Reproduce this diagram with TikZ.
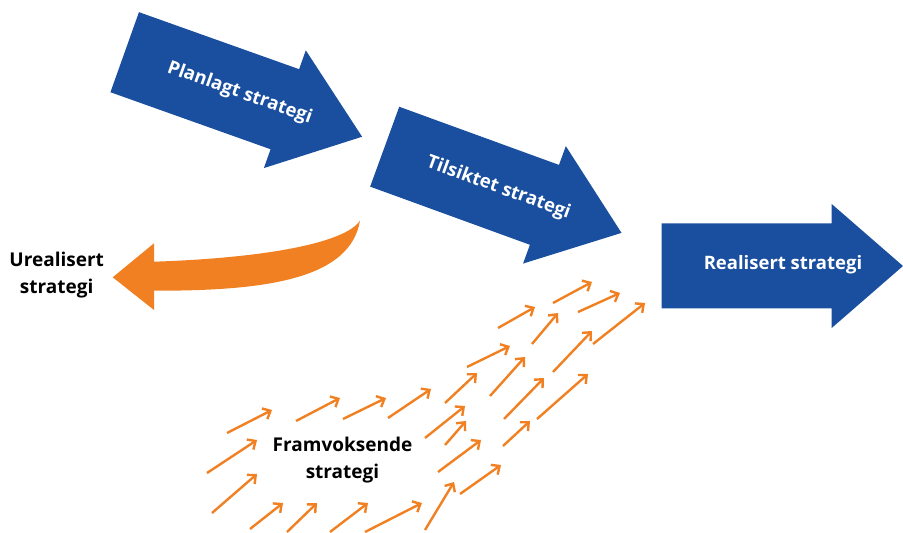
\documentclass[tikz,border=0pt]{standalone}
\usepackage{fontspec}
\setmainfont{Open Sans}
\usetikzlibrary{arrows.meta}
\definecolor{stratblue}{HTML}{1A4F9F}
\definecolor{stratorange}{HTML}{F08022}
\begin{document}
\begin{tikzpicture}[x=1pt,y=1pt,
  bluearrow/.style={fill=stratblue},
  bluelabel/.style={text=white,font=\bfseries\fontsize{18.5}{22}\selectfont},
  blacklabel/.style={text=black,align=center,font=\bfseries\fontsize{19}{26.5}\selectfont},
  sprout/.style={stratorange,line width=2.4pt,-{Straight Barb[length=6.5pt,width=12pt]}}]
  \useasboundingbox (0,0) rectangle (903,533);
  % planlagt strategi
  \begin{scope}[shift={(124.7,480.8)},rotate=-19.6]
    \fill[bluearrow] (0,42.5) -- (170,42.5) -- (170,62.5) -- (252,0) -- (170,-62.5) -- (170,-42.5) -- (0,-42.5) -- cycle;
    \node[bluelabel,rotate=-19.6] (plan) at (122,0) {Planlagt strategi};
  \end{scope}
  % tilsiktet strategi
  \begin{scope}[shift={(384.7,386.3)},rotate=-20]
    \fill[bluearrow] (0,42.5) -- (170,42.5) -- (170,62.5) -- (252,0) -- (170,-62.5) -- (170,-42.5) -- (0,-42.5) -- cycle;
    \node[bluelabel,rotate=-20] (tilsiktet) at (121,0) {Tilsiktet strategi};
  \end{scope}
  % realisert strategi
  \fill[bluearrow] (661.7,224.7) -- (831.7,224.7) -- (831.7,205) -- (903,267) -- (831.7,329) -- (831.7,309.7) -- (661.7,309.7) -- cycle;
  \node[bluelabel] (realisert) at (783,268) {Realisert strategi};
  % urealisert strategi
  \fill[stratorange] (154,271.3) .. controls (265,275) and (345,290) .. (360,312.3)
    .. controls (350,255) and (270,242) .. (154,242.3) -- (154,223) -- (112.7,255.7) -- (154,289.7) -- cycle;
  \node[blacklabel] (urealisert) at (56.7,258) {Urealisert\\strategi};
  % framvoksende strategi
  \node[blacklabel] (framvoksende) at (342.5,73) {Framvoksende\\strategi};
  \foreach \xa/\ya/\xb/\yb in {498/205/535/226, 553/230/592/251, 578/221/620/240, 593/189/645/230,
    532/189/558/220, 467/166/510/187, 553/161/592/202, 490/137/525/176, 445/130/477/160,
    388/115/431/144, 343/114/386/135, 296/112/340/135, 227/100/272/123, 425/95/465/127,
    445/88/466/112, 504/114/544/155, 537/114/588/159, 503/87/530/112, 438/61/481/93,
    207/60/257/93, 212/20/257/59, 460/39/501/68, 425/3/454/51, 250/4/283/30,
    287/1/317/30, 330/1/368/30, 365/1/422/30}
    {\draw[sprout] (\xa,\ya) -- (\xb,\yb);}
\end{tikzpicture}
\end{document}
